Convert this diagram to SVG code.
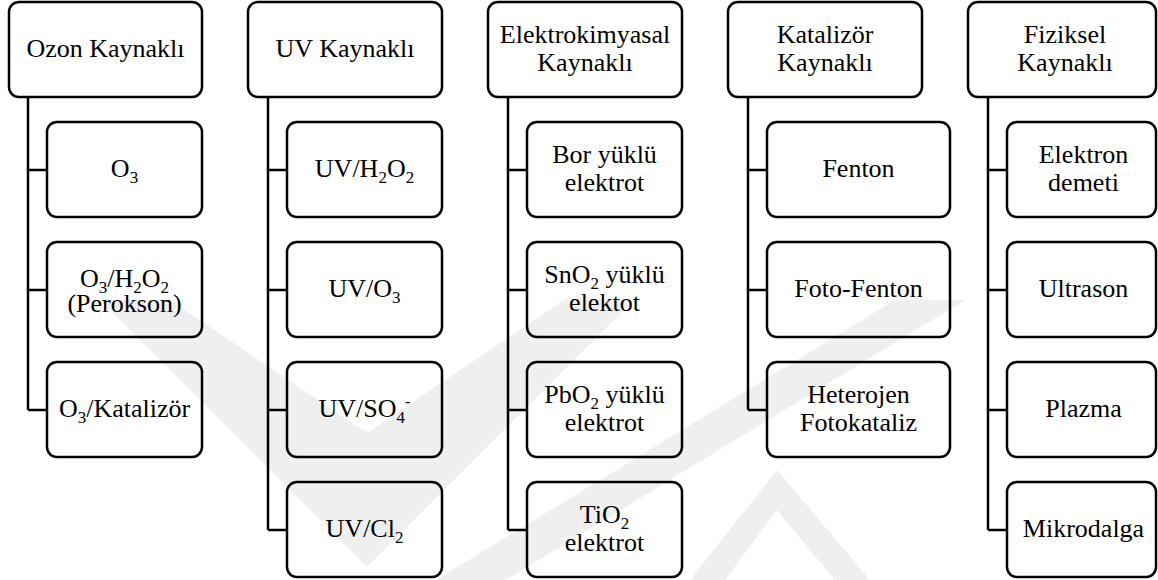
<svg xmlns="http://www.w3.org/2000/svg" width="1158" height="580" viewBox="0 0 1158 580">
<style>
.bx{fill:none;stroke:#000;stroke-width:2.5}
.cn{fill:none;stroke:#000;stroke-width:2.5}
.t{font-family:"Liberation Serif","Times New Roman",serif;font-size:26px;fill:#000;text-anchor:middle}
.s{font-size:17px}
.wm{fill:#efefef;stroke:none}
</style>
<rect width="1158" height="580" fill="#fff"/>
<g id="watermark">
<polygon class="wm" points="100,300 170,300 367,433 564,300 634,300 367,567"/>
<polygon class="wm" points="436,580 506,580 965,300 895,300"/>
<polygon class="wm" points="690,580 777,470 870,580 835,580 777,510 725,580"/>
</g>
<g id="connectors">
<path class="cn" d="M28,97V410M28,170H47M28,290H47M28,410H47"/>
<path class="cn" d="M268,97V530M268,170H287M268,290H287M268,410H287M268,530H287"/>
<path class="cn" d="M508,97V530M508,170H527M508,290H527M508,410H527M508,530H527"/>
<path class="cn" d="M748,97V410M748,170H767M748,290H767M748,410H767"/>
<path class="cn" d="M988,97V530M988,170H1007M988,290H1007M988,410H1007M988,530H1007"/>
</g>
<g id="ozon">
<rect class="bx" x="9" y="2" width="193" height="95" rx="10"/>
<text class="t" x="105.5" y="57">Ozon Kaynaklı</text>
</g>
<g id="ozon-o3">
<rect class="bx" x="47" y="122" width="155" height="95" rx="10"/>
<text class="t" x="124.5" y="177">O<tspan class="s" dy="6">3</tspan></text>
</g>
<g id="ozon-perokson">
<rect class="bx" x="47" y="242" width="155" height="95" rx="10"/>
<text class="t" x="124.5" y="287">O<tspan class="s" dy="6">3</tspan><tspan dy="-6">/H</tspan><tspan class="s" dy="6">2</tspan><tspan dy="-6">O</tspan><tspan class="s" dy="6">2</tspan></text>
<text class="t" x="124.5" y="312">(Perokson)</text>
</g>
<g id="ozon-katalizor">
<rect class="bx" x="47" y="362" width="155" height="95" rx="10"/>
<text class="t" x="124.5" y="417">O<tspan class="s" dy="6">3</tspan><tspan dy="-6">/Katalizör</tspan></text>
</g>
<g id="uv">
<rect class="bx" x="248" y="2" width="194" height="95" rx="10"/>
<text class="t" x="345" y="57">UV Kaynaklı</text>
</g>
<g id="uv-h2o2">
<rect class="bx" x="287" y="122" width="155" height="95" rx="10"/>
<text class="t" x="364.5" y="177">UV/H<tspan class="s" dy="6">2</tspan><tspan dy="-6">O</tspan><tspan class="s" dy="6">2</tspan></text>
</g>
<g id="uv-o3">
<rect class="bx" x="287" y="242" width="155" height="95" rx="10"/>
<text class="t" x="364.5" y="297">UV/O<tspan class="s" dy="6">3</tspan></text>
</g>
<g id="uv-so4">
<rect class="bx" x="287" y="362" width="155" height="95" rx="10"/>
<text class="t" x="364.5" y="417">UV/SO<tspan class="s" dy="6">4</tspan><tspan class="s" dy="-16">-</tspan></text>
</g>
<g id="uv-cl2">
<rect class="bx" x="287" y="482" width="155" height="95" rx="10"/>
<text class="t" x="364.5" y="537">UV/Cl<tspan class="s" dy="6">2</tspan></text>
</g>
<g id="elektro">
<rect class="bx" x="488" y="2" width="194" height="95" rx="10"/>
<text class="t" x="585" y="43">Elektrokimyasal</text>
<text class="t" x="585" y="71">Kaynaklı</text>
</g>
<g id="elektro-bor">
<rect class="bx" x="527" y="122" width="155" height="95" rx="10"/>
<text class="t" x="604.5" y="163">Bor yüklü</text>
<text class="t" x="604.5" y="191">elektrot</text>
</g>
<g id="elektro-sno2">
<rect class="bx" x="527" y="242" width="155" height="95" rx="10"/>
<text class="t" x="604.5" y="283">SnO<tspan class="s" dy="6">2</tspan><tspan dy="-6"> yüklü</tspan></text>
<text class="t" x="604.5" y="311">elektot</text>
</g>
<g id="elektro-pbo2">
<rect class="bx" x="527" y="362" width="155" height="95" rx="10"/>
<text class="t" x="604.5" y="403">PbO<tspan class="s" dy="6">2</tspan><tspan dy="-6"> yüklü</tspan></text>
<text class="t" x="604.5" y="431">elektrot</text>
</g>
<g id="elektro-tio2">
<rect class="bx" x="527" y="482" width="155" height="95" rx="10"/>
<text class="t" x="604.5" y="523">TiO<tspan class="s" dy="6">2</tspan></text>
<text class="t" x="604.5" y="551">elektrot</text>
</g>
<g id="katalizor">
<rect class="bx" x="728" y="2" width="194" height="95" rx="10"/>
<text class="t" x="825" y="43">Katalizör</text>
<text class="t" x="825" y="71">Kaynaklı</text>
</g>
<g id="katalizor-fenton">
<rect class="bx" x="767" y="122" width="183" height="95" rx="10"/>
<text class="t" x="858.5" y="177">Fenton</text>
</g>
<g id="katalizor-fotofenton">
<rect class="bx" x="767" y="242" width="183" height="95" rx="10"/>
<text class="t" x="858.5" y="297">Foto-Fenton</text>
</g>
<g id="katalizor-heterojen">
<rect class="bx" x="767" y="362" width="183" height="95" rx="10"/>
<text class="t" x="858.5" y="403">Heterojen</text>
<text class="t" x="858.5" y="431">Fotokataliz</text>
</g>
<g id="fiziksel">
<rect class="bx" x="968" y="2" width="188" height="95" rx="10"/>
<text class="t" x="1065" y="43">Fiziksel</text>
<text class="t" x="1065" y="71">Kaynaklı</text>
</g>
<g id="fiziksel-elektron">
<rect class="bx" x="1007" y="122" width="149" height="95" rx="10"/>
<text class="t" x="1083.5" y="163">Elektron</text>
<text class="t" x="1083.5" y="191">demeti</text>
</g>
<g id="fiziksel-ultrason">
<rect class="bx" x="1007" y="242" width="149" height="95" rx="10"/>
<text class="t" x="1083.5" y="297">Ultrason</text>
</g>
<g id="fiziksel-plazma">
<rect class="bx" x="1007" y="362" width="149" height="95" rx="10"/>
<text class="t" x="1083.5" y="417">Plazma</text>
</g>
<g id="fiziksel-mikrodalga">
<rect class="bx" x="1007" y="482" width="149" height="95" rx="10"/>
<text class="t" x="1083.5" y="537">Mikrodalga</text>
</g>
</svg>
